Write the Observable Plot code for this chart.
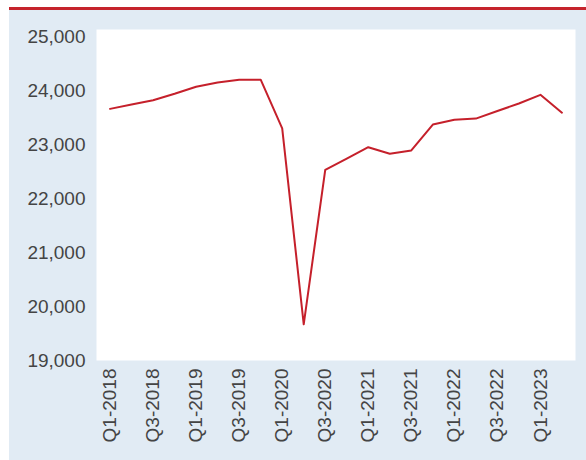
<!DOCTYPE html>
<html>
<head>
<meta charset="utf-8">
<script src="https://cdn.jsdelivr.net/npm/d3@7"></script>
<script src="https://cdn.jsdelivr.net/npm/@observablehq/plot@0.6"></script>
<style>
  html, body { margin: 0; padding: 0; background: #ffffff; }
  #wrap { position: relative; width: 586px; height: 460px; overflow: hidden; }
  #panel { position: absolute; left: 9px; top: 7px; width: 577px; height: 450px;
           border-top: 3px solid #c5232c; background: #e1ebf4; }
  #chart { position: absolute; left: 0; top: 0; }
</style>
</head>
<body>
<div id="wrap"><div id="panel"></div><div id="chart"></div></div>
<script>
const quarters = [
  "Q1-2018","Q2-2018","Q3-2018","Q4-2018",
  "Q1-2019","Q2-2019","Q3-2019","Q4-2019",
  "Q1-2020","Q2-2020","Q3-2020","Q4-2020",
  "Q1-2021","Q2-2021","Q3-2021","Q4-2021",
  "Q1-2022","Q2-2022","Q3-2022","Q4-2022",
  "Q1-2023","Q2-2023"
];
const values = [
  23660, 23740, 23820, 23940,
  24070, 24150, 24200, 24200,
  23300, 19670, 22530, 22740,
  22950, 22830, 22890, 23370,
  23460, 23480, 23620, 23760,
  23920, 23590
];
const xTickLabels = ["Q1-2018","Q3-2018","Q1-2019","Q3-2019","Q1-2020","Q3-2020","Q1-2021","Q3-2021","Q1-2022","Q3-2022","Q1-2023"];
const yTicks = [19000, 20000, 21000, 22000, 23000, 24000, 25000];

const data = quarters.map((q, i) => ({quarter: q, value: values[i]}));

const chart = Plot.plot({
  width: 586,
  height: 460,
  marginLeft: 96,
  marginRight: 11,
  marginTop: 29,
  marginBottom: 100,
  style: {fontFamily: "'Liberation Sans', Arial, sans-serif", fontSize: "19px", background: "transparent", color: "#444444", overflow: "visible"},
  x: {type: "point", domain: quarters, padding: 0.63, round: false, label: null},
  y: {domain: [19000, 25130], label: null},
  marks: [
    Plot.frame({fill: "#ffffff", stroke: null}),
    Plot.axisY({ticks: yTicks, tickFormat: d3.format(","), tickSize: 0, tickPadding: 11, label: null}),
    Plot.axisX({ticks: xTickLabels, tickRotate: -90, tickSize: 0, tickPadding: 8, label: null}),
    Plot.line(data, {x: "quarter", y: "value", stroke: "#c5202b", strokeWidth: 2})
  ]
});
document.getElementById("chart").appendChild(chart);
</script>
</body>
</html>
